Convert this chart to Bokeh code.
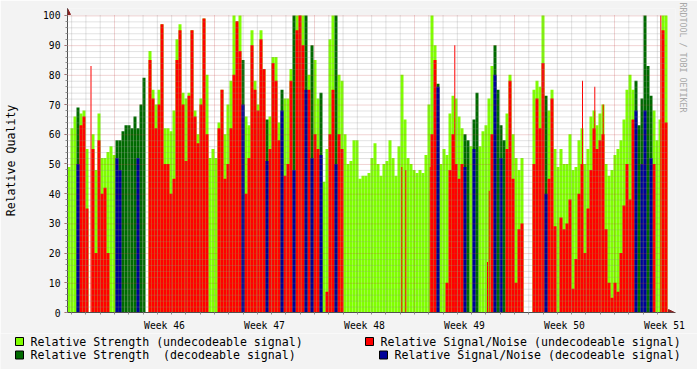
import numpy as np
from bokeh.plotting import figure
from bokeh.models import (FixedTicker, Arrow, NormalHead, Range1d, Title,
                          CustomJSTickFormatter)
from bokeh.layouts import column
from bokeh.embed import file_html
from bokeh.resources import INLINE
from bokeh.core.properties import value

# ---------------- data (one sample every 0.21 day, 200 samples = 6 weeks) ----
strength = [
    49, 62, 66, 69, 67, 68, 55, 0, 60, 48,
    67, 52, 52, 54, 56, 53, 58, 58, 61, 63,
    63, 62, 66, 62, 70, 79, 0, 88, 75, 70,
    75, 97, 62, 62, 61, 68, 92, 97, 74, 72,
    74, 95, 68, 60, 72, 99, 80, 52, 55, 52,
    64, 75, 60, 70, 78, 100, 98, 100, 85, 66,
    63, 95, 78, 70, 95, 82, 65, 66, 86, 86,
    64, 75, 72, 72, 82, 100, 100, 100, 100, 100,
    80, 90, 85, 72, 74, 44, 55, 92, 100, 100,
    80, 78, 60, 50, 51, 58, 58, 45, 46, 46,
    47, 52, 57, 50, 46, 50, 51, 58, 52, 46,
    56, 80, 65, 52, 50, 48, 47, 48, 47, 53,
    70, 100, 90, 77, 50, 55, 53, 67, 73, 72,
    66, 62, 60, 58, 56, 65, 74, 56, 61, 63,
    72, 83, 90, 75, 63, 58, 67, 80, 60, 52,
    48, 52, 0, 0, 0, 75, 78, 76, 100, 73,
    68, 75, 55, 49, 55, 50, 50, 60, 48, 49,
    58, 62, 50, 55, 66, 68, 63, 67, 70, 50,
    46, 48, 53, 55, 58, 65, 75, 80, 75, 78,
    63, 72, 100, 83, 73, 68, 58, 65, 100, 100,
]
snr = [
    0, 0, 0, 50, 63, 66, 35, 0, 55, 20,
    58, 40, 42, 20, 0, 0, 52, 48, 0, 0,
    0, 0, 0, 52, 0, 0, 0, 85, 72, 62,
    70, 97, 50, 50, 40, 45, 85, 95, 70, 51,
    73, 95, 66, 57, 70, 99, 60, 0, 0, 0,
    62, 75, 45, 50, 62, 80, 98, 88, 70, 40,
    52, 90, 75, 68, 92, 82, 51, 55, 84, 78,
    58, 68, 46, 50, 78, 48, 95, 100, 90, 75,
    75, 52, 60, 55, 53, 0, 7, 60, 75, 50,
    60, 55, 0, 0, 0, 0, 0, 0, 0, 0,
    0, 0, 0, 0, 0, 0, 0, 0, 0, 0,
    0, 0, 0, 0, 0, 0, 0, 0, 0, 0,
    0, 60, 85, 76, 0, 0, 10, 48, 60, 50,
    45, 50, 49, 0, 0, 55, 0, 0, 0, 0,
    0, 60, 80, 0, 52, 0, 55, 78, 45, 10,
    28, 30, 0, 0, 0, 50, 72, 62, 84, 40,
    45, 72, 29, 0, 32, 28, 30, 38, 8, 18,
    40, 50, 20, 35, 48, 62, 55, 58, 60, 28,
    10, 5, 10, 7, 20, 36, 50, 38, 65, 68,
    0, 50, 68, 0, 52, 50, 0, 0, 95, 64,
]
# g = undecodeable, d = decodeable, w = no data
status = "".join([
    "gggdgggwgg", "ggggggdddd", "ddddddwggg", "gggggggggg", "gggggggggg",
    "ggggggggdg", "ggggggdggg", "gdgggdgggd", "gdggdggggd", "gggggggggg",
    "gggggggggg", "gggggggggg", "gggdgggggg", "ggddgddggg", "ggddddgggg",
    "ggwwwggggd", "gggggggggg", "gggggggggg", "gggggggggd", "dddddggggg",
])
# short single-sample S/N spikes (day, value)
spike_day = [1.645, 23.40, 23.68, 25.39, 27.11, 29.40, 29.52, 29.70,
             36.05, 36.91, 37.50, 41.53]
spike_val = [83, 49, 48, 49, 90, 17, 41, 23, 78, 76, 70, 100]

week_labels = ["Week 46", "Week 47", "Week 48", "Week 49", "Week 50", "Week 51"]
y_ticks = [0, 10, 20, 30, 40, 50, 60, 70, 80, 90, 100]
legend_labels = ["Relative Strength (undecodeable signal)",
                 "Relative Strength \u00a0(decodeable signal)",
                 "Relative Signal/Noise (undecodeable signal)",
                 "Relative Signal/Noise (decodeable signal)"]

STEP = 0.21          # days per sample
DAYS = 42.0
FIRST_DAY_LINE = 0.29
FIRST_WEEK_LINE = 3.29

# ---------------- styles ----------------
BG = "#f3f3f3"
LGREEN = "#80ff00"
DGREEN = "#006a00"
RED = "#ff0000"
BLUE = "#000099"
ARROWC = "#8b2222"
AXISC = "#505050"
FONT = "DejaVu Sans Mono"
legend_colors = [LGREEN, DGREEN, RED, BLUE]
PX_PER_DAY = 600 / DAYS

n = len(strength)
assert len(snr) == n and len(status) == n
idx = np.arange(n)
left = idx * STEP
right = left + STEP
S = np.array(strength, dtype=float)
N = np.array(snr, dtype=float)
flags = np.array(list(status))
g = flags == "g"
d = flags == "d"

x_end = DAYS + 8 / PX_PER_DAY
y_end = 100 + 7 / 3.0

p = figure(width=697, height=333, x_range=Range1d(0, x_end), y_range=Range1d(0, y_end),
           output_backend="svg", toolbar_location=None,
           min_border_left=67, min_border_right=22, min_border_top=8, min_border_bottom=18,
           background_fill_color=BG, border_fill_color=BG, outline_line_color=None)
p.frame_align = False
p.xgrid.visible = False
p.ygrid.visible = False

# white canvas of the graph area
p.quad(left=0, right=DAYS, bottom=0, top=100, fill_color="white", line_color=None)

p.quad(left=left[g], right=right[g], bottom=0, top=S[g], fill_color=LGREEN, line_color=None)
p.quad(left=left[d], right=right[d], bottom=0, top=S[d], fill_color=DGREEN, line_color=None)
mg = g & (N > 0)
md = d & (N > 0)
p.quad(left=left[mg], right=right[mg], bottom=0, top=N[mg], fill_color=RED, line_color=None)
p.quad(left=left[md], right=right[md], bottom=0, top=N[md], fill_color=BLUE, line_color=None)
sd = np.array(spike_day)
p.quad(left=sd - 0.035, right=sd + 0.035, bottom=0, top=spike_val, fill_color=RED, line_color=None)

# grid drawn on top (rrdtool style)
week_lines = [FIRST_WEEK_LINE + 7 * k for k in range(6)]
day_lines = [FIRST_DAY_LINE + k for k in range(42)]
minor_x = [x for x in day_lines if all(abs(x - w) > 1e-6 for w in week_lines)]
half = 0.5 / 3.0
minor_y = [v - half for v in range(2, 100, 2) if v % 10]
major_y = [v - half for v in range(10, 101, 10)]
p.segment(x0=minor_x, y0=0, x1=minor_x, y1=100, line_color="#909090", line_alpha=0.5,
          line_dash="1 1", line_width=1)
p.segment(x0=0, y0=minor_y, x1=DAYS, y1=minor_y, line_color="#909090", line_alpha=0.5,
          line_dash="1 1", line_width=1)
p.segment(x0=week_lines, y0=0, x1=week_lines, y1=100, line_color="#c04040", line_alpha=0.45,
          line_dash="1 1", line_width=1)
p.segment(x0=0, y0=major_y, x1=DAYS, y1=major_y, line_color="#c04040", line_alpha=0.45,
          line_dash="1 1", line_width=1)

# axes
p.yaxis.ticker = FixedTicker(ticks=y_ticks, minor_ticks=list(range(0, 101, 2)))
p.yaxis.axis_line_color = AXISC
p.yaxis.major_tick_out = 3
p.yaxis.major_tick_in = 0
p.yaxis.minor_tick_out = 2
p.yaxis.minor_tick_in = 0
p.yaxis.major_tick_line_color = "#b05050"
p.yaxis.minor_tick_line_color = "#909090"
p.yaxis.major_label_standoff = 4
p.yaxis.major_label_text_font = FONT
p.yaxis.major_label_text_font_size = "9.7px"
p.yaxis.major_label_text_color = "#000000"
p.yaxis.axis_label = "Relative Quality"
p.yaxis.axis_label_text_font = FONT
p.yaxis.axis_label_text_font_size = "11.6px"
p.yaxis.axis_label_text_font_style = "normal"
p.yaxis.axis_label_text_color = "#000000"
p.yaxis.axis_label_standoff = 22

label_days = [w + 3.5 for w in week_lines]
p.xaxis.ticker = FixedTicker(ticks=label_days, minor_ticks=day_lines)
p.xaxis.formatter = CustomJSTickFormatter(args=dict(labels=week_labels),
                                          code="return labels[index];")
p.xaxis.axis_line_color = AXISC
p.xaxis.major_tick_line_color = None
p.xaxis.major_tick_out = 0
p.xaxis.major_tick_in = 0
p.xaxis.minor_tick_out = 2
p.xaxis.minor_tick_in = 0
p.xaxis.minor_tick_line_color = "#909090"
p.xaxis.major_label_standoff = 5
p.xaxis.major_label_text_font = FONT
p.xaxis.major_label_text_font_size = "9.7px"
p.xaxis.major_label_text_color = "#000000"

# arrows at axis ends
p.add_layout(Arrow(end=NormalHead(size=6, fill_color=ARROWC, line_color=ARROWC),
                   x_start=0, y_start=100, x_end=0, y_end=y_end,
                   line_color=AXISC, line_width=1))
p.add_layout(Arrow(end=NormalHead(size=6, fill_color=ARROWC, line_color=ARROWC),
                   x_start=DAYS, y_start=0, x_end=DAYS + 7 / PX_PER_DAY, y_end=0,
                   line_color=AXISC, line_width=1))

# watermark on the right edge
p.add_layout(Title(text="RRDTOOL / TOBI OETIKER", align="left", text_font=FONT,
                   text_font_size="8.3px", text_font_style="normal",
                   text_color="#a8a8a8", standoff=4, offset=-6), "right")

# ---------------- legend panel ----------------
lg = figure(width=697, height=36, x_range=Range1d(0, 697), y_range=Range1d(36, 0),
            output_backend="svg", toolbar_location=None, x_axis_type=None, y_axis_type=None,
            min_border=0, background_fill_color=BG, border_fill_color=BG,
            outline_line_color=None)
lg.frame_align = False
lg.xgrid.visible = False
lg.ygrid.visible = False
box_x = [19, 19, 369, 383]
box_y = [8, 21.5, 8, 21.5]
text_x = [30, 30, 380, 394]
lg.rect(x=box_x, y=box_y, width=8, height=8, fill_color=legend_colors,
        line_color="#000000", line_width=1)
lg.text(x=text_x, y=box_y, text=legend_labels, text_font=value(FONT),
        text_font_size="11.6px", text_baseline="middle", text_align="left",
        text_color="#000000")

layout = column(p, lg, spacing=0)
open("out.html", "w").write(file_html(layout, INLINE))
